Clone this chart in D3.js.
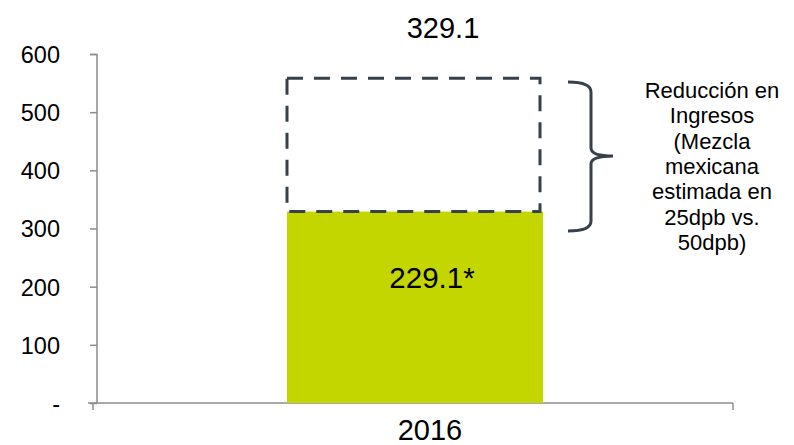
<!DOCTYPE html>
<html>
<head>
<meta charset="utf-8">
<script src="https://cdn.jsdelivr.net/npm/d3@7"></script>
<style>
body { margin: 0; background: #fff; }
text { font-family: "Liberation Sans", Arial, sans-serif; }
</style>
</head>
<body>
<svg id="chart"></svg>
<script>
const categories = ["2016"];
const baseValues = [329.1];
const reductionValues = [229.1];
const yTicks = [0, 100, 200, 300, 400, 500, 600];
const topLabel = "329.1";
const barLabel = "229.1*";
const noteLines = ["Reducción en", "Ingresos", "(Mezcla", "mexicana", "estimada en", "25dpb vs.", "50dpb)"];

const svg = d3.select("#chart")
.attr("width", 794)
.attr("height", 445);

const y = d3.scaleLinear().domain([0, 600]).range([403, 54]);
const x = d3.scaleBand().domain(categories).range([97, 733]);
const barW = 256;
const cx = c => x(c) + x.bandwidth() / 2;

// y axis
const yAxis = d3.axisLeft(y)
.tickValues(yTicks)
.tickSize(7)
.tickPadding(30)
.tickFormat(d => d === 0 ? "-" : d);
const gy = svg.append("g").attr("transform", "translate(97,0)").call(yAxis);
gy.select(".domain").attr("stroke", "#8c8c8c").attr("stroke-width", 1.5).attr("d", "M-7,54.5H0V403");
gy.selectAll(".tick line").attr("stroke", "#8c8c8c").attr("stroke-width", 1.5);
gy.selectAll(".tick text").style("font-size", "23.5px").attr("fill", "#000")
.attr("dy", "0.36em");

// x axis
const gx = svg.append("g").attr("transform", "translate(0,403)");
gx.append("line").attr("x1", 88).attr("x2", 733).attr("y1", 0).attr("y2", 0)
.attr("stroke", "#8c8c8c").attr("stroke-width", 1.5);
gx.selectAll("line.tk").data([93, 733]).enter().append("line")
.attr("class", "tk")
.attr("x1", d => d).attr("x2", d => d).attr("y1", 0).attr("y2", 7)
.attr("stroke", "#8c8c8c").attr("stroke-width", 1.5);
gx.selectAll("text").data(categories).enter().append("text")
.attr("x", d => cx(d) + 15)
.attr("y", 37)
.attr("text-anchor", "middle")
.style("font-size", "29px")
.text(d => d);

// green bar
svg.selectAll("rect.base").data(categories).enter().append("rect")
.attr("class", "base")
.attr("x", c => cx(c) - barW / 2)
.attr("width", barW)
.attr("y", (c, i) => y(baseValues[i]))
.attr("height", (c, i) => y(0) - y(baseValues[i]))
.attr("fill", "#c4d600");

// dashed reduction box
svg.selectAll("rect.red").data(categories).enter().append("rect")
.attr("class", "red")
.attr("x", c => cx(c) - barW / 2)
.attr("width", barW - 3)
.attr("y", (c, i) => y(baseValues[i] + reductionValues[i]))
.attr("height", (c, i) => y(baseValues[i]) - y(baseValues[i] + reductionValues[i]))
.attr("fill", "none")
.attr("stroke", "#37414b")
.attr("stroke-width", 3)
.attr("stroke-dasharray", "16,11");

// value labels
svg.append("text")
.attr("x", cx(categories[0]) + 28)
.attr("y", 38)
.attr("text-anchor", "middle")
.style("font-size", "29px")
.text(topLabel);
svg.append("text")
.attr("x", cx(categories[0]) + 17)
.attr("y", 288)
.attr("text-anchor", "middle")
.style("font-size", "29.5px")
.text(barLabel);

// brace
const bTop = 82;
const bBot = 231;
const bMid = 156;
svg.append("path")
.attr("d", `M568,${bTop} Q591,${bTop} 591,${bTop + 10} V${bMid - 8} Q591,${bMid} 613,${bMid} Q591,${bMid} 591,${bMid + 8} V${bBot - 10} Q591,${bBot} 568,${bBot}`)
.attr("fill", "none")
.attr("stroke", "#37414b")
.attr("stroke-width", 3);

svg.append("g").selectAll("text").data(noteLines).enter().append("text")
.attr("x", 712)
.attr("y", (d, i) => 98 + i * 25.3)
.attr("text-anchor", "middle")
.style("font-size", "22px")
.text(d => d);
</script>
</body>
</html>
